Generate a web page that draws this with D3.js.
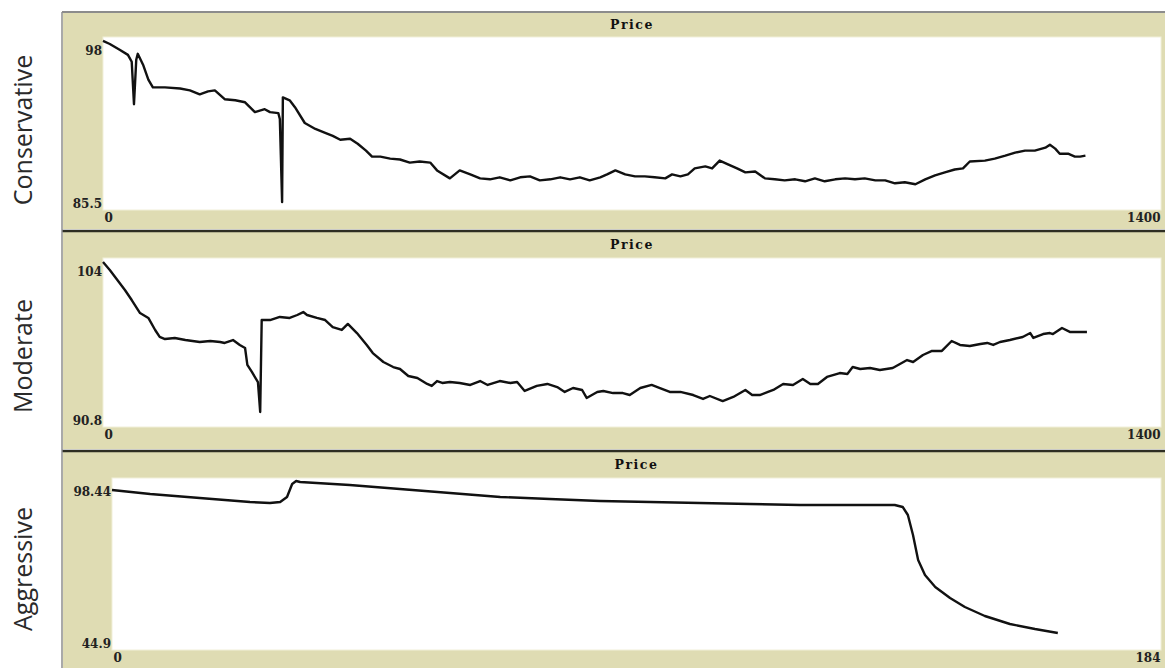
<!DOCTYPE html>
<html>
<head>
<meta charset="utf-8">
<title>Price</title>
<style>
  body { margin: 0; background: #fff; }
  svg { display: block; }
</style>
</head>
<body>
<script src="https://cdn.jsdelivr.net/npm/d3@7"></script>
<script>
// panel names, axis ranges and tick labels
var names = ["Conservative", "Moderate", "Aggressive"];
var xMax = [1400, 1400, 184];
var yMin = [85.5, 90.8, 44.9];
var yMax = [98, 104, 98.44];
var yTickText = [["85.5", "98"], ["90.8", "104"], ["44.9", "98.44"]];
var xTickText = [["0", "1400"], ["0", "1400"], ["0", "184"]];

// Conservative price series
var consT = [0,9,22,33,38,41,44,46,53,60,66,82,102,115,128,139,148,161,175,188,201,214,221,232,234,237,238,247,254,267,281,294,304,314,327,337,348,356,367,380,393,406,419,433,442,459,472,486,499,512,525,539,552,565,578,592,605,618,631,644,658,667,678,691,704,717,730,744,753,764,774,783,797,806,816,827,839,850,863,876,889,902,916,929,942,955,969,982,995,1008,1022,1035,1048,1061,1075,1088,1101,1114,1127,1138,1147,1167,1180,1194,1207,1220,1233,1247,1253,1260,1266,1277,1286,1293,1300];
var consV = [97.93,97.70,97.26,96.88,96.36,93.16,96.51,96.96,96.14,95.02,94.43,94.43,94.35,94.21,93.91,94.13,94.21,93.54,93.46,93.31,92.57,92.79,92.57,92.49,92.05,85.80,93.68,93.46,92.94,91.75,91.30,91.01,90.78,90.49,90.56,90.19,89.67,89.22,89.22,89.07,89.00,88.77,88.85,88.77,88.18,87.58,88.18,87.88,87.58,87.51,87.66,87.43,87.66,87.73,87.43,87.51,87.66,87.51,87.66,87.43,87.66,87.88,88.18,87.88,87.73,87.73,87.66,87.58,87.88,87.73,87.88,88.33,88.48,88.33,88.92,88.63,88.33,88.03,88.10,87.58,87.51,87.43,87.51,87.36,87.58,87.36,87.51,87.58,87.51,87.58,87.43,87.43,87.21,87.29,87.14,87.51,87.81,88.03,88.25,88.33,88.85,88.92,89.07,89.29,89.52,89.67,89.67,89.89,90.11,89.82,89.44,89.44,89.22,89.22,89.29];

// Moderate price series
var modT = [0,9,19,29,38,49,60,69,75,82,95,109,128,142,155,161,172,181,188,191,197,205,208,210,221,234,247,257,265,270,283,294,304,316,324,336,349,357,371,384,393,404,416,429,435,442,449,459,472,486,499,509,525,539,548,558,574,588,601,611,622,634,640,654,662,675,688,697,711,726,737,750,764,781,794,803,820,834,850,859,869,880,887,900,913,926,936,946,958,975,985,992,1002,1015,1028,1045,1064,1072,1085,1097,1110,1123,1134,1147,1161,1170,1178,1187,1200,1217,1227,1231,1244,1253,1257,1269,1280,1293,1302];
var modV = [103.92,103.27,102.45,101.64,100.82,99.76,99.36,98.38,97.81,97.64,97.73,97.56,97.40,97.48,97.40,97.32,97.56,97.16,96.91,95.53,94.96,94.14,91.70,99.19,99.19,99.44,99.36,99.60,99.84,99.60,99.36,99.19,98.62,98.38,98.87,98.13,97.16,96.50,95.77,95.36,95.20,94.63,94.47,93.98,93.82,94.22,94.06,94.14,94.06,93.90,94.22,93.90,94.22,94.06,94.14,93.41,93.82,93.98,93.73,93.33,93.65,93.49,92.84,93.33,93.41,93.24,93.24,93.08,93.65,93.90,93.65,93.33,93.33,93.08,92.76,93.00,92.59,92.92,93.49,93.08,93.08,93.33,93.49,93.98,93.90,94.39,93.98,93.98,94.55,94.87,94.79,95.36,95.20,95.28,95.12,95.28,95.93,95.77,96.34,96.67,96.67,97.48,97.16,97.07,97.24,97.32,97.16,97.40,97.56,97.81,98.13,97.73,98.05,98.13,98.05,98.54,98.21,98.21,98.21];

// Aggressive price series
var aggT = [0,6.7,15.4,24.2,27.7,29.5,30.7,31.6,32.3,33.0,41.7,50.5,59.3,68.1,76.8,85.6,94.4,103.1,111.9,120.7,129.5,137.3,138.7,139.6,140.5,141.4,142.6,144.4,147.0,149.6,153.1,157.5,161.9,165.9];
var aggV = [95.52,94.22,92.92,91.63,91.30,91.63,93.25,97.47,98.44,98.12,97.14,95.84,94.55,93.25,92.60,91.95,91.63,91.30,90.98,90.65,90.65,90.65,90.00,87.41,80.92,72.81,67.94,64.05,60.48,57.56,54.64,52.04,50.42,49.12];

var seriesT = [consT, modT, aggT];
var seriesV = [consV, modV, aggV];

var width = 1165, height = 668;
var beige = "#dfdcb3";

// panel frames: separator line, title band, plot area, bottom
var frames = [
  {top: 12,  title: 36,  plotTop: 37,  plotBottom: 210, bottom: 229, left: 103, nameY: 130},
  {top: 231, title: 257, plotTop: 258, plotBottom: 427, bottom: 449, left: 103, nameY: 356},
  {top: 451, title: 477, plotTop: 478, plotBottom: 650, bottom: 668, left: 112, nameY: 569}
];
var plotRight = 1161;

var svg = d3.select("body").append("svg")
  .attr("width", width)
  .attr("height", height);

svg.append("rect").attr("width", width).attr("height", height).attr("fill", "#fff");

frames.forEach(function(f, p) {
  var g = svg.append("g");

  // beige frame
  g.append("rect")
    .attr("x", 63).attr("y", f.top + 1)
    .attr("width", width - 63).attr("height", f.bottom - f.top - 1)
    .attr("fill", beige);

  // white plot area
  g.append("rect")
    .attr("x", f.left).attr("y", f.plotTop)
    .attr("width", plotRight - f.left).attr("height", f.plotBottom - f.plotTop)
    .attr("fill", "#fff")
    .attr("stroke", "#f1efd9").attr("stroke-width", 1);

  // separator on top of the panel
  g.append("line")
    .attr("x1", 62).attr("x2", width)
    .attr("y1", f.top).attr("y2", f.top)
    .attr("stroke", p == 0 ? "#8c8c8c" : "#2e2e22")
    .attr("stroke-width", p == 0 ? 2 : 2.5);

  // title
  g.append("text")
    .attr("x", (f.left + plotRight) / 2)
    .attr("y", (f.top + f.title) / 2 + 5)
    .attr("text-anchor", "middle")
    .attr("font-family", "DejaVu Serif")
    .attr("font-weight", "bold")
    .attr("font-size", 12.5)
    .attr("letter-spacing", 1.5)
    .attr("fill", "#111")
    .text("Price");

  var x = d3.scaleLinear().domain([0, xMax[p]]).range([f.left, plotRight]);
  var y = d3.scaleLinear().domain([yMin[p], yMax[p]]).range([f.plotBottom - 4, f.plotTop + 3]);

  // y labels (min and max only)
  var yAxis = g.append("g")
    .attr("transform", "translate(" + (f.left - 1) + ",0)")
    .call(d3.axisLeft(y).tickValues([yMin[p], yMax[p]]).tickSize(0).tickPadding(0)
      .tickFormat(function(d, i) { return yTickText[p][i]; }));
  yAxis.select(".domain").remove();
  yAxis.selectAll("text")
    .attr("font-family", "DejaVu Serif")
    .attr("font-weight", "bold")
    .attr("font-size", 12)
    .attr("fill", "#222")
    .attr("dy", function(d, i) { return i == 1 ? "1.2em" : "0.1em"; });

  // x labels (0 and max)
  var xAxis = g.append("g")
    .attr("transform", "translate(0," + f.plotBottom + ")")
    .call(d3.axisBottom(x).tickValues([0, xMax[p]]).tickSize(0).tickPadding(3)
      .tickFormat(function(d, i) { return xTickText[p][i]; }));
  xAxis.select(".domain").remove();
  xAxis.selectAll("text")
    .attr("font-family", "DejaVu Serif")
    .attr("font-weight", "bold")
    .attr("font-size", 12)
    .attr("fill", "#222")
    .attr("text-anchor", function(d, i) { return i == 0 ? "start" : "end"; })
    .attr("dx", function(d, i) { return i == 0 ? 1 : -1; });

  // price line
  var pts = seriesT[p].map(function(t, i) { return [t, seriesV[p][i]]; });
  g.append("path")
    .datum(pts)
    .attr("fill", "none")
    .attr("stroke", "#111")
    .attr("stroke-width", 2.4)
    .attr("stroke-linejoin", "round")
    .attr("d", d3.line().x(function(d) { return x(d[0]); }).y(function(d) { return y(d[1]); }));

  // strategy name on the left
  svg.append("text")
    .attr("transform", "translate(32," + f.nameY + ") rotate(-90)")
    .attr("text-anchor", "middle")
    .attr("font-family", "Open Sans")
    .attr("font-size", 25)
    .attr("fill", "#2a2a2a")
    .text(names[p]);
});

// left border of the frame
svg.append("line")
  .attr("x1", 62).attr("x2", 62)
  .attr("y1", 12).attr("y2", height)
  .attr("stroke", "#8c8c8c").attr("stroke-width", 1.5);
</script>
</body>
</html>
